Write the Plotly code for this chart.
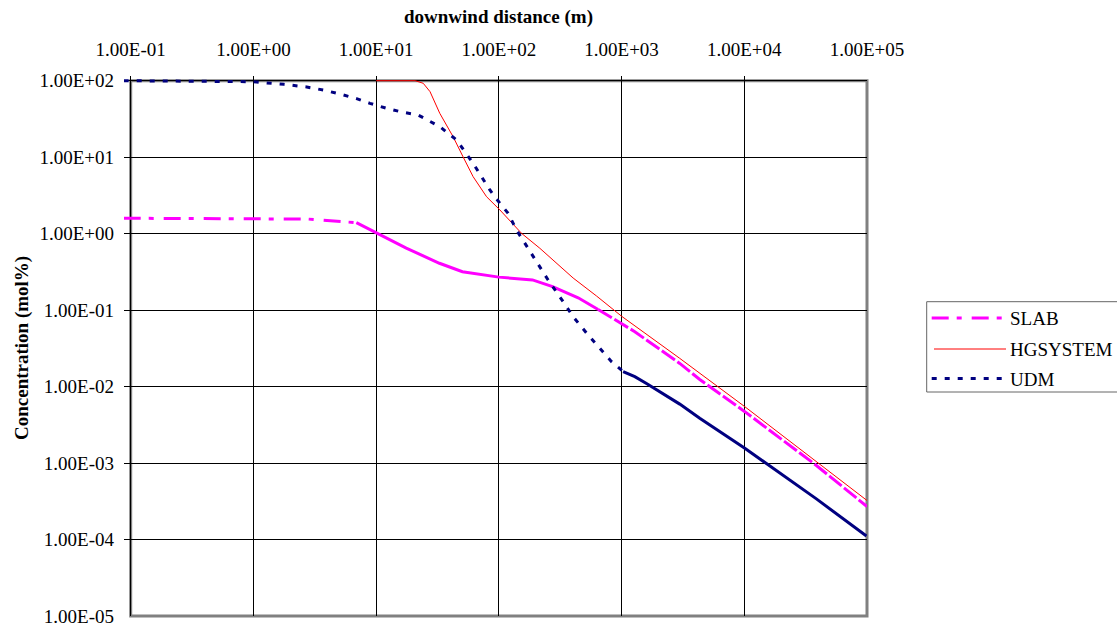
import math
import plotly.graph_objects as go

# ---------------- data (downwind distance in m, concentration in mol%) -------------
slab_x = [0.0877, 1.0, 2.8, 6.9, 10, 17.6, 32.8, 50.5, 100, 188, 274, 443, 644,
          1000, 1282, 1596, 2980, 4335, 10100, 38700, 100000]
slab_y = [1.59, 1.58, 1.55, 1.39, 1.03, 0.646, 0.41, 0.318, 0.27, 0.248, 0.203,
          0.145, 0.102, 0.0673, 0.0522, 0.0407, 0.0201, 0.0124, 0.0047, 0.00093, 0.00027]

hg_x = [10, 20.8, 24.2, 27.5, 33, 42.4, 51.1, 61.7, 79.4, 102, 153, 216, 403, 625,
        1000, 2980, 10100, 38700, 100000]
hg_y = [100, 100, 92.5, 71.8, 37.5, 18.5, 10.1, 5.56, 3.04, 2.04, 1.01, 0.643, 0.263,
        0.153, 0.0832, 0.0234, 0.00546, 0.00104, 0.000324]

udm_x = [0.0877, 1.0, 1.22, 1.77, 2.72, 3.71, 5.07, 6.93, 8.9, 12.2, 16.6, 22, 33,
         45.2, 61.7, 84.5, 102, 119, 139, 163, 190, 223, 252, 334, 403, 534, 644, 828,
         1030, 1282, 1596, 2980, 4335, 10100, 38700, 99000]
udm_y = [100, 97, 94.2, 89.7, 82.7, 75.5, 67, 58.2, 50.6, 43.5, 38.6, 35.6, 25.1,
         16.8, 8.32, 3.72, 2.49, 1.85, 1.12, 0.748, 0.499, 0.334, 0.248, 0.129, 0.082,
         0.0473, 0.0333, 0.0212, 0.0157, 0.0135, 0.011, 0.0059, 0.00385, 0.00156,
         0.00034, 0.000111]

x_ticks = [0.1, 1, 10, 100, 1000, 10000, 100000]
x_tick_labels = ["1.00E-01", "1.00E+00", "1.00E+01", "1.00E+02", "1.00E+03",
                 "1.00E+04", "1.00E+05"]
y_ticks = [1e-5, 1e-4, 1e-3, 1e-2, 1e-1, 1, 10, 100]
y_tick_labels = ["1.00E-05", "1.00E-04", "1.00E-03", "1.00E-02", "1.00E-01",
                 "1.00E+00", "1.00E+01", "1.00E+02"]

series_names = ["SLAB", "HGSYSTEM", "UDM"]

# ---------------- styling ----------------
FONT = "Liberation Serif, Times New Roman, serif"
FS = 19
MAGENTA = "#FF00FF"
RED = "#FF0000"
NAVY = "#000080"
SLAB_DASH = "17px,8px,5px,10px"
UDM_DASH = "5px,8px"

# plot area geometry (px)
L, R, T, B = 124, 867, 76, 616
W, H = 1117, 628
PW, PH = R - L, B - T

x_lo = -1 - (130.7 - L) / ((R - 130.7) / 6)
y_hi = 2 + (80.7 - T) / ((B - 80.7) / 7)
x_rng = [x_lo, 5]
y_rng = [-5, y_hi]


def px2paper_x(px):
    return (px - L) / PW


def px2paper_y(py):
    return (B - py) / PH


def dom_x(v):
    return (math.log10(v) - x_rng[0]) / (x_rng[1] - x_rng[0])


def dom_y(v):
    return (math.log10(v) - y_rng[0]) / (y_rng[1] - y_rng[0])


def part(xs, ys, lo, hi):
    sel = [(a, b) for a, b in zip(xs, ys) if lo <= a <= hi]
    return [s[0] for s in sel], [s[1] for s in sel]


fig = go.Figure()

# SLAB: dash-dot on the sparse start, solid in the dense middle, dashed in the tail
for (lo, hi), dash in [((0, 6.9), SLAB_DASH), ((6.9, 644), "solid"), ((644, 1e6), "16px,3px")]:
    xs, ys = part(slab_x, slab_y, lo, hi)
    fig.add_trace(go.Scatter(x=xs, y=ys, mode="lines", name=series_names[0],
                             line=dict(color=MAGENTA, width=3, dash=dash),
                             showlegend=False, hoverinfo="skip"))

fig.add_trace(go.Scatter(x=hg_x, y=hg_y, mode="lines", name=series_names[1],
                         line=dict(color=RED, width=1), showlegend=False,
                         hoverinfo="skip"))

for (lo, hi), dash in [((0, 1030), UDM_DASH), ((1030, 1e6), "solid")]:
    xs, ys = part(udm_x, udm_y, lo, hi)
    fig.add_trace(go.Scatter(x=xs, y=ys, mode="lines", name=series_names[2],
                             line=dict(color=NAVY, width=3, dash=dash),
                             showlegend=False, hoverinfo="skip"))

shapes = [
    # plot-area border
    dict(type="rect", xref="x domain", yref="y domain",
         x0=dom_x(x_ticks[0]), x1=dom_x(x_ticks[-1]),
         y0=dom_y(y_ticks[0]), y1=dom_y(y_ticks[-1]),
         line=dict(color="#808080", width=3), layer="below"),
    # legend box
    dict(type="rect", xref="paper", yref="paper",
         x0=px2paper_x(926.7), x1=px2paper_x(1130),
         y0=px2paper_y(392), y1=px2paper_y(301.7),
         line=dict(color="#666666", width=1), fillcolor="white", layer="above"),
    # legend samples
    dict(type="line", xref="paper", yref="paper",
         x0=px2paper_x(931.7), x1=px2paper_x(1002), y0=px2paper_y(318), y1=px2paper_y(318),
         line=dict(color=MAGENTA, width=3, dash=SLAB_DASH)),
    dict(type="line", xref="paper", yref="paper",
         x0=px2paper_x(934), x1=px2paper_x(1006), y0=px2paper_y(349), y1=px2paper_y(349),
         line=dict(color=RED, width=1)),
    dict(type="line", xref="paper", yref="paper",
         x0=px2paper_x(931.7), x1=px2paper_x(1006), y0=px2paper_y(378.5), y1=px2paper_y(378.5),
         line=dict(color=NAVY, width=3, dash=UDM_DASH)),
]

annotations = [
    dict(text="<b>downwind distance (m)</b>", xref="paper", yref="paper",
         x=px2paper_x(498), y=px2paper_y(17), xanchor="center", yanchor="middle",
         showarrow=False, font=dict(family=FONT, size=FS, color="black")),
    dict(text="<b>Concentration (mol%)</b>", xref="paper", yref="paper",
         x=px2paper_x(22), y=px2paper_y(348), xanchor="center", yanchor="middle",
         textangle=-90, showarrow=False, font=dict(family=FONT, size=FS, color="black")),
]
for name, py in zip(series_names, [318.3, 349.3, 379.3]):
    annotations.append(dict(text=name, xref="paper", yref="paper",
                            x=px2paper_x(1008), y=px2paper_y(py), xanchor="left",
                            yanchor="middle", showarrow=False,
                            font=dict(family=FONT, size=FS, color="black")))

fig.update_layout(
    width=W, height=H,
    margin=dict(l=L, r=W - R, t=T, b=H - B, pad=0),
    paper_bgcolor="white", plot_bgcolor="white",
    font=dict(family=FONT, size=FS, color="black"),
    showlegend=False,
    shapes=shapes, annotations=annotations,
    xaxis=dict(type="log", range=x_rng, side="top",
               tickmode="array", tickvals=x_ticks, ticktext=x_tick_labels,
               showgrid=True, gridcolor="black", gridwidth=1,
               showline=False, zeroline=False, ticks="", ticklabelstandoff=15,
               tickfont=dict(family=FONT, size=FS, color="black"),
               automargin=False, fixedrange=True),
    yaxis=dict(type="log", range=y_rng,
               tickmode="array", tickvals=y_ticks, ticktext=y_tick_labels,
               showgrid=True, gridcolor="black", gridwidth=1,
               showline=False, zeroline=False, ticks="", ticklabelstandoff=9,
               tickfont=dict(family=FONT, size=FS, color="black"),
               automargin=False, fixedrange=True),
)

fig.write_html("out.html", config={"displayModeBar": False})
